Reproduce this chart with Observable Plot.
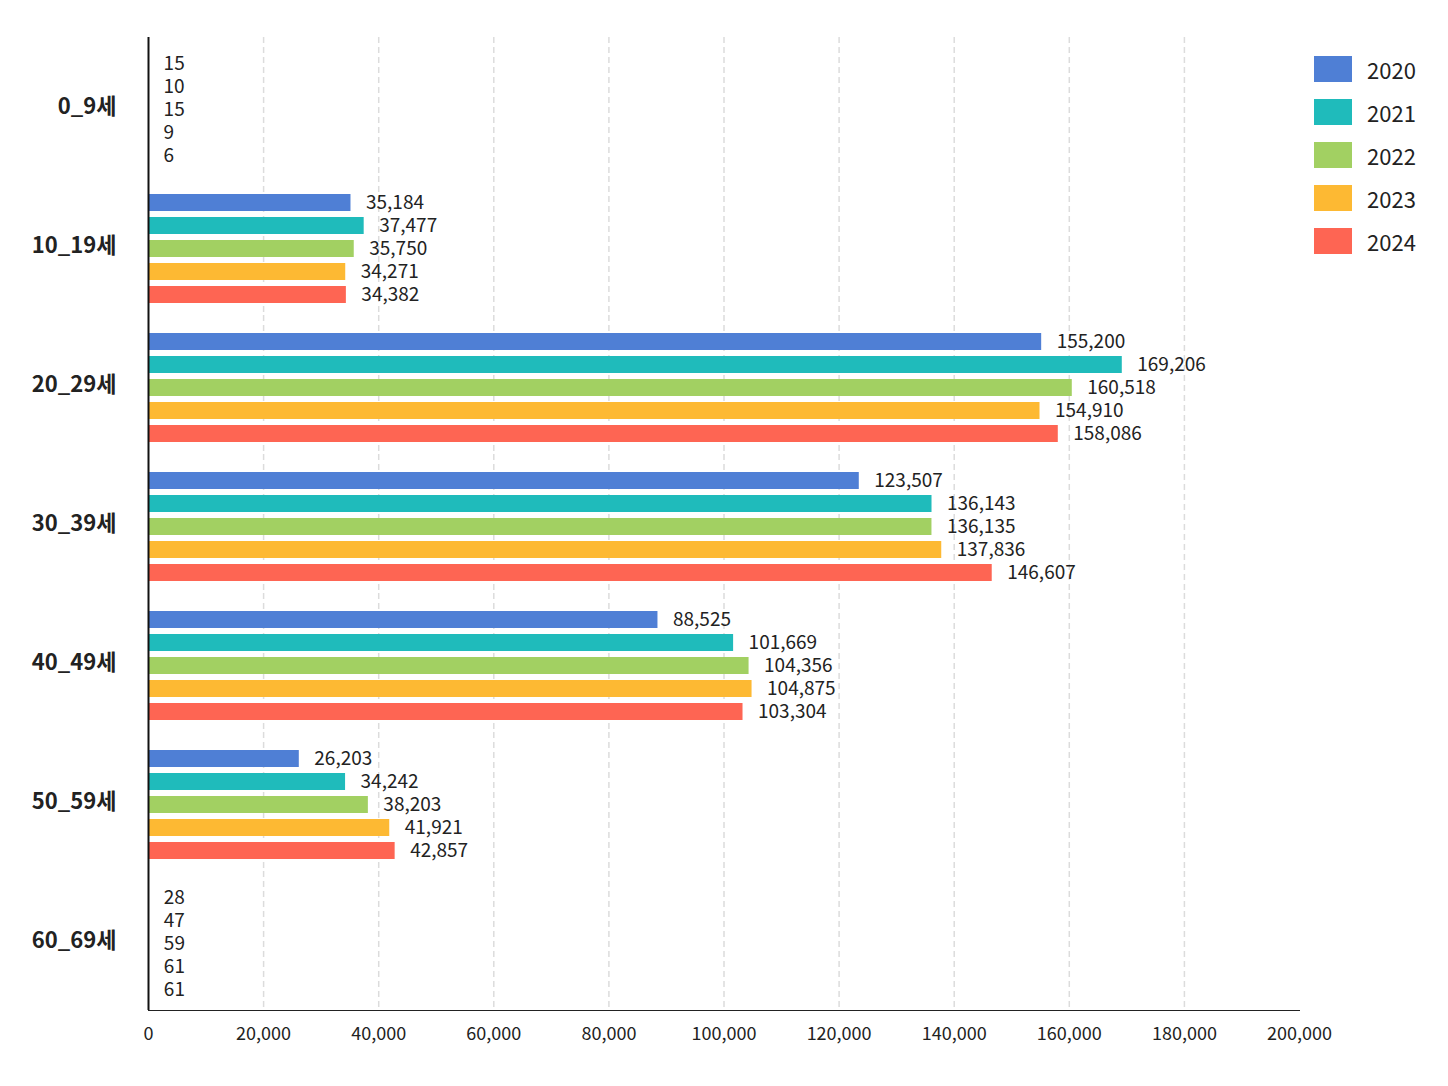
<!DOCTYPE html>
<html><head><meta charset="utf-8">
<script src="https://cdn.jsdelivr.net/npm/d3@7"></script>
<script src="https://cdn.jsdelivr.net/npm/@observablehq/plot@0.6"></script>
<style>
html,body{margin:0;padding:0;background:#fff;}
#wrap{position:relative;width:1448px;height:1086px;}
#legend{position:absolute;left:1314px;top:56px;font-family:"Noto Sans CJK KR","Noto Sans",sans-serif;font-size:22px;color:#222;}
.item{display:flex;align-items:center;height:26px;margin-bottom:17px;}
.sw{width:38px;height:26px;margin-right:15px;}
svg [aria-label^="fy-axis"] text{font-size:22px;font-weight:bold;}
svg [aria-label^="x-axis"] text{font-size:18px;}
svg path.domain{stroke:#111;stroke-width:2px;}
</style></head><body><div id="wrap"></div>
<script>
const categories = ["0_9세","10_19세","20_29세","30_39세","40_49세","50_59세","60_69세"];
const years = ["2020","2021","2022","2023","2024"];
const v2020 = [15,35184,155200,123507,88525,26203,28];
const v2021 = [10,37477,169206,136143,101669,34242,47];
const v2022 = [15,35750,160518,136135,104356,38203,59];
const v2023 = [9,34271,154910,137836,104875,41921,61];
const v2024 = [6,34382,158086,146607,103304,42857,61];
const colors = ["#4f7fd5","#1fbbbb","#a2d062","#fdb933","#fe6553"];
const xTicks = [0,20000,40000,60000,80000,100000,120000,140000,160000,180000,200000];
const gridTicks = [20000,40000,60000,80000,100000,120000,140000,160000,180000];

const series = [v2020,v2021,v2022,v2023,v2024];
const rows = [];
categories.forEach((c,i)=>{ years.forEach((y,j)=>{ rows.push({cat:c, year:y, value:series[j][i]}); }); });
const fmt = d3.format(",");

const chart = Plot.plot({
  width:1448, height:1086,
  marginLeft:148, marginRight:149, marginTop:35, marginBottom:75,
  style:{fontFamily:'"Noto Sans CJK KR","Noto Sans",sans-serif', color:"#222", background:"#fff"},
  facet:{data: rows, y:"cat"},
  fy:{domain:categories, padding:0, axis:"left", tickSize:0, tickPadding:32, label:null},
  y:{domain:years, paddingInner:0.25, paddingOuter:0.53, align:0.6, axis:null},
  x:{domain:[0,200000], ticks:xTicks, tickFormat:fmt, tickSize:0, tickPadding:17, label:null, line:true},
  color:{domain:years, range:colors},
  marks:[
    Plot.ruleX(gridTicks, {stroke:"#dcdcdc", strokeWidth:1.5, strokeDasharray:"6,4"}),
    Plot.barX(rows, {x:"value", y:"year", fill:"year"}),
    Plot.text(rows, {x:"value", y:"year", text:d=>fmt(d.value), dx:15, textAnchor:"start", fontSize:19, fill:"#222"}),
    Plot.ruleX([0], {stroke:"#111", strokeWidth:2})
  ]
});
const wrap = document.getElementById("wrap");
wrap.appendChild(chart);

const legend = document.createElement("div");
legend.id = "legend";
years.forEach((y,j)=>{
  const it = document.createElement("div"); it.className="item";
  const sw = document.createElement("div"); sw.className="sw"; sw.style.background=colors[j];
  const lb = document.createElement("span"); lb.textContent=y;
  it.appendChild(sw); it.appendChild(lb); legend.appendChild(it);
});
wrap.appendChild(legend);
</script></body></html>
